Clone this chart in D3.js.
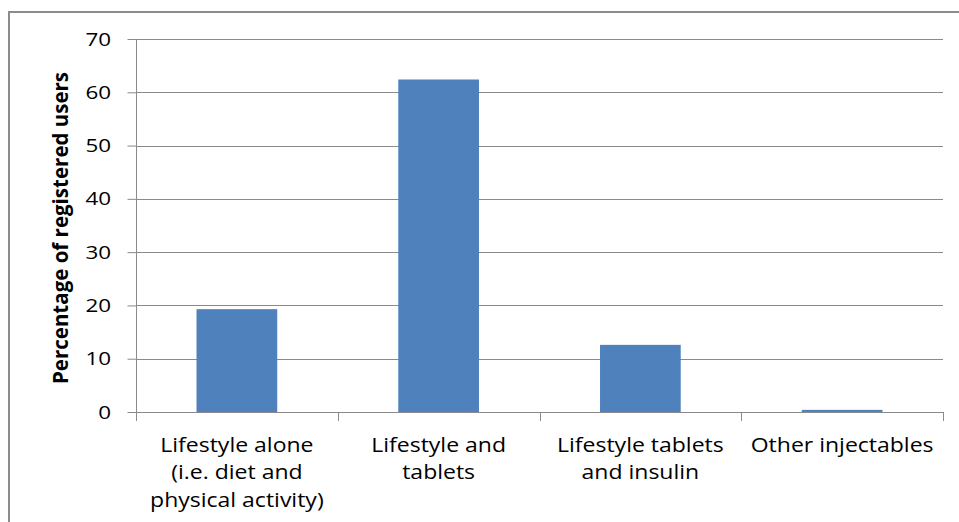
<!DOCTYPE html>
<html>
<head>
<meta charset="utf-8">
<script src="https://cdn.jsdelivr.net/npm/d3@7"></script>
<style>
  html, body { margin: 0; padding: 0; background: #fff; }
  svg { display: block; }
  text { font-family: "Open Sans", Lato, sans-serif; fill: #000; }
</style>
</head>
<body>
<svg id="chart" width="959" height="522"></svg>
<script>
// Treatment categories (each entry is a list of label lines)
const categories = [
  ["Lifestyle alone", "(i.e. diet and", "physical activity)"],
  ["Lifestyle and", "tablets"],
  ["Lifestyle tablets", "and insulin"],
  ["Other injectables"]
];
const values = [19.3, 62.4, 12.6, 0.4];
const yTicks = [0, 10, 20, 30, 40, 50, 60, 70];
const yTitle = "Percentage of registered users";

const svg = d3.select("#chart");
const textStretch = "scale(1.18,1)";
const gridColor = "#8a8a8a";

// outer chart frame
svg.append("rect")
  .attr("x", 9).attr("y", 12)
  .attr("width", 970).attr("height", 530)
  .attr("fill", "none")
  .attr("stroke", "#8c8c8c")
  .attr("stroke-width", 2);

const x = d3.scaleBand()
  .domain(d3.range(categories.length))
  .range([136, 943])
  .paddingInner(0.6)
  .paddingOuter(0.3);

const y = d3.scaleLinear()
  .domain([0, 70])
  .range([412, 39]);

// horizontal gridlines
svg.append("g")
  .selectAll("line")
  .data(yTicks.filter(d => d > 0))
  .join("line")
  .attr("x1", 136).attr("x2", 943)
  .attr("y1", d => Math.round(y(d)) + 0.5)
  .attr("y2", d => Math.round(y(d)) + 0.5)
  .attr("stroke", gridColor)
  .attr("stroke-width", 1);

// bars
svg.append("g")
  .selectAll("rect")
  .data(values)
  .join("rect")
  .attr("x", (d, i) => x(i))
  .attr("width", x.bandwidth())
  .attr("y", d => y(d))
  .attr("height", d => y(0) - y(d))
  .attr("fill", "#4f81bd");

// y axis
const yAxis = d3.axisLeft(y)
  .tickValues(yTicks)
  .tickSize(9)
  .tickPadding(12.6)
  .tickFormat(d3.format("d"));

const gy = svg.append("g")
  .attr("transform", "translate(136.5,0)")
  .call(yAxis);
gy.select(".domain").attr("stroke", gridColor).attr("d", "M0,39V412");
gy.selectAll(".tick line").attr("stroke", gridColor);
gy.selectAll(".tick text")
  .style("font-size", "19px")
  .attr("transform", textStretch)
  .attr("fill", "#000");

// x axis baseline and category boundary ticks
const xStep = x.step();
const boundaries = d3.range(categories.length + 1).map(i => 136 + i * xStep);
svg.append("line")
  .attr("x1", 136).attr("x2", 943)
  .attr("y1", 412.5).attr("y2", 412.5)
  .attr("stroke", gridColor);
svg.append("g")
  .selectAll("line")
  .data(boundaries)
  .join("line")
  .attr("x1", d => Math.round(d) + 0.5)
  .attr("x2", d => Math.round(d) + 0.5)
  .attr("y1", 412).attr("y2", 421)
  .attr("stroke", gridColor);

// category labels
const labels = svg.append("g")
  .selectAll("text")
  .data(categories)
  .join("text")
  .attr("text-anchor", "middle")
  .attr("transform", (d, i) => `translate(${x(i) + x.bandwidth() / 2},452) ${textStretch}`)
  .style("font-size", "19.5px");
labels.selectAll("tspan")
  .data(d => d)
  .join("tspan")
  .attr("x", 0)
  .attr("dy", (d, i) => i === 0 ? 0 : 27.5)
  .text(d => d);

// y axis title
svg.append("text")
  .attr("transform", `translate(67.5,228) rotate(-90)`)
  .attr("text-anchor", "middle")
  .style("font-size", "20.5px")
  .style("font-weight", "bold")
  .text(yTitle);
</script>
</body>
</html>
